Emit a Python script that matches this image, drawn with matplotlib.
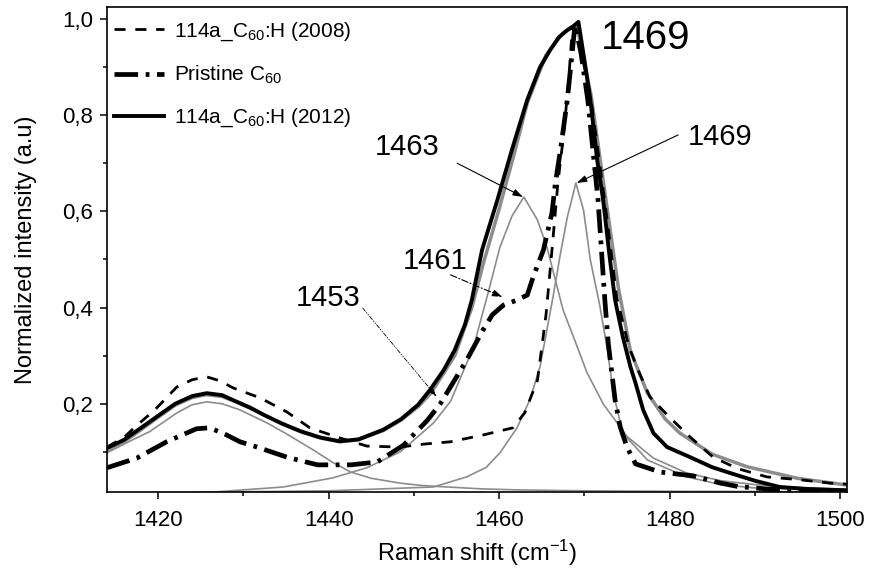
import matplotlib
matplotlib.use("Agg")
import matplotlib.pyplot as plt
from matplotlib.ticker import MultipleLocator

plt.rcParams['font.family'] = ['Liberation Sans', 'DejaVu Sans']
plt.rcParams['mathtext.default'] = 'regular'

# ---------------- data ----------------
x_2012 = [1414, 1416, 1418, 1420, 1422, 1424, 1425.7, 1427.5, 1429, 1430.8, 1432.5, 1434.5,
          1436.7, 1439, 1441.3, 1443.5, 1446.4, 1448.5, 1450.5, 1451.9, 1453.5, 1454.8, 1456,
          1456.8, 1458.0, 1459.8, 1461.5, 1463.3, 1464.8, 1466.0, 1467.0, 1468.0, 1468.7, 1469.3,
          1470.0, 1470.7, 1471.5, 1472.2, 1473.0, 1473.6, 1474.5, 1475.4, 1476.0, 1476.9, 1478.1,
          1479.7, 1482.4, 1485, 1487.1, 1490, 1492.9, 1496, 1500.8]
y_2012 = [0.108, 0.125, 0.150, 0.175, 0.200, 0.216, 0.222, 0.218, 0.206, 0.192, 0.176, 0.159,
          0.143, 0.130, 0.122, 0.126, 0.146, 0.168, 0.198, 0.229, 0.270, 0.312, 0.365,
          0.416, 0.520, 0.624, 0.728, 0.832, 0.900, 0.936, 0.962, 0.977, 0.985, 0.994,
          0.915, 0.832, 0.707, 0.624, 0.500, 0.416, 0.340, 0.277, 0.243, 0.187, 0.139,
          0.110, 0.089, 0.068, 0.056, 0.040, 0.027, 0.023, 0.020]

x_2008 = [1414, 1416, 1417.5, 1419.6, 1422.2, 1424, 1425.7, 1427.2, 1428.8, 1432, 1435.1, 1437.8,
          1441.3, 1444.5, 1448.4, 1451.1, 1454.3, 1458.1, 1461.6, 1463.0, 1464.5, 1465.5, 1466.2,
          1466.9, 1467.5, 1468.1, 1468.6, 1469.2, 1470.8, 1472.4, 1473.8, 1475.2, 1476.3, 1477.7,
          1480.1, 1482.4, 1485.1, 1488, 1491.4, 1495.3, 1498.8, 1500.8]
y_2008 = [0.110, 0.130, 0.155, 0.187, 0.235, 0.250, 0.256, 0.248, 0.233, 0.212, 0.183, 0.150,
          0.129, 0.112, 0.110, 0.116, 0.121, 0.135, 0.150, 0.181, 0.249, 0.385, 0.520,
          0.660, 0.750, 0.860, 0.983, 0.970, 0.830, 0.620, 0.420, 0.320, 0.270, 0.214,
          0.170, 0.131, 0.089, 0.065, 0.048, 0.042, 0.035, 0.033]

x_pristine = [1414, 1417.5, 1421, 1424.5, 1426, 1427.6, 1429.6, 1431.6, 1435.1, 1438.7, 1442.6,
              1445.7, 1448.8, 1451.6, 1453.1, 1456.2, 1458.1, 1459.2, 1460.5, 1462, 1463.3, 1464,
              1465.2, 1466.2, 1466.6, 1467.2, 1468, 1468.6, 1468.9, 1469.6, 1470.4, 1471.6, 1472.4,
              1472.8, 1473.6, 1474.2, 1475.0, 1476.0, 1478.9, 1482.8, 1486, 1488, 1492, 1500.8]
y_pristine = [0.067, 0.087, 0.121, 0.148, 0.150, 0.139, 0.121, 0.110, 0.089, 0.073, 0.073,
              0.079, 0.114, 0.166, 0.200, 0.291, 0.353, 0.385, 0.405, 0.415, 0.426, 0.464,
              0.520, 0.597, 0.659, 0.728, 0.832, 0.936, 0.988, 0.930, 0.832, 0.624, 0.416,
              0.326, 0.208, 0.152, 0.110, 0.075, 0.058, 0.050, 0.035, 0.028, 0.022, 0.018]

# cumulative fit (gray)
x_fit = [1414, 1416, 1418, 1420, 1422, 1424, 1425.7, 1427.5, 1429, 1431, 1433, 1435, 1437, 1439,
         1441.3, 1443.5, 1446.4, 1448.5, 1450.5, 1452, 1454.8, 1456.8, 1458.2, 1460, 1461.7,
         1463.3, 1465.5, 1467.5, 1469.1, 1470.8, 1472.4, 1474, 1475.4, 1477.4, 1479.5, 1481.2,
         1485, 1489.1, 1495, 1500.8]
y_fit = [0.103, 0.121, 0.146, 0.172, 0.197, 0.213, 0.219, 0.215, 0.205, 0.189, 0.172, 0.155,
         0.140, 0.129, 0.121, 0.125, 0.144, 0.166, 0.194, 0.222, 0.300, 0.400, 0.495, 0.605,
         0.715, 0.825, 0.925, 0.971, 0.988, 0.840, 0.640, 0.440, 0.310, 0.222, 0.168, 0.139,
         0.095, 0.069, 0.045, 0.031]

# fit components (gray)
x_c1426 = [1414, 1417, 1419, 1422.2, 1424, 1425.7, 1427.5, 1429.5, 1432.8, 1435, 1438.2, 1440.5,
           1442.6, 1445, 1448.4, 1451, 1453.9, 1458, 1462, 1470, 1480, 1500.8]
y_c1426 = [0.098, 0.125, 0.142, 0.181, 0.198, 0.204, 0.200, 0.188, 0.160, 0.138, 0.104, 0.078,
           0.058, 0.045, 0.035, 0.030, 0.027, 0.023, 0.021, 0.019, 0.018, 0.017]

x_c1463 = [1420, 1426.9, 1434.7, 1440.5, 1444.5, 1448.4, 1452.3, 1454.3, 1457, 1458.7, 1460.1,
           1461.5, 1462.2, 1462.9, 1464.5, 1465.6, 1466.3, 1467.5, 1468.7, 1470.3, 1472.2, 1475,
           1478.1, 1482, 1486, 1490, 1495, 1500.8]
y_c1463 = [0.012, 0.017, 0.027, 0.046, 0.067, 0.100, 0.160, 0.205, 0.318, 0.430, 0.526,
           0.590, 0.610, 0.630, 0.582, 0.526, 0.478, 0.395, 0.340, 0.265, 0.200, 0.132,
           0.087, 0.056, 0.040, 0.032, 0.026, 0.022]

x_c1469 = [1414, 1440, 1452.3, 1456.2, 1458.5, 1460.1, 1462.1, 1463.6, 1464.8, 1466.3, 1467.2,
           1468, 1469.0, 1469.9, 1470.7, 1471.8, 1472.7, 1473.4, 1474.5, 1477.4, 1482, 1486,
           1490, 1500.8]
y_c1469 = [0.014, 0.019, 0.027, 0.048, 0.068, 0.098, 0.150, 0.208, 0.277, 0.420, 0.513,
           0.588, 0.659, 0.603, 0.499, 0.405, 0.312, 0.222, 0.139, 0.083, 0.048, 0.032,
           0.025, 0.019]

labels = ['114a_C$_{60}$:H (2008)', 'Pristine C$_{60}$', '114a_C$_{60}$:H (2012)']
xticks = [1420, 1440, 1460, 1480, 1500]
yticks = [0.2, 0.4, 0.6, 0.8, 1.0]
ytick_labels = ['0,2', '0,4', '0,6', '0,8', '1,0']

# ---------------- figure ----------------
fig = plt.figure(figsize=(8.71, 5.73), dpi=100)
ax = fig.add_axes([0.1228, 0.1414, 0.8496, 0.8464])

gray = '#8c8c8c'
ax.plot(x_c1426, y_c1426, color=gray, lw=1.2, zorder=2)
ax.plot(x_c1463, y_c1463, color=gray, lw=1.2, zorder=2)
ax.plot(x_c1469, y_c1469, color=gray, lw=1.2, zorder=2)
ax.plot(x_fit, y_fit, color=gray, lw=2.5, zorder=2)

l1, = ax.plot(x_2008, y_2008, color='black', lw=2.0, linestyle=(0, (4, 3.5)), zorder=3)
l2, = ax.plot(x_pristine, y_pristine, color='black', lw=3.4,
              linestyle=(0, (5.0, 1.6, 0.8, 1.6)), zorder=3)
l3, = ax.plot(x_2012, y_2012, color='black', lw=2.8, zorder=4)

ax.set_xlim(1414.0, 1500.8)
ax.set_ylim(0.0166, 1.025)

ax.set_xticks(xticks)
ax.set_xticklabels([str(t) for t in xticks])
ax.set_yticks(yticks)
ax.set_yticklabels(ytick_labels)
ax.xaxis.set_minor_locator(MultipleLocator(10))
ax.yaxis.set_minor_locator(MultipleLocator(0.1))
ax.tick_params(which='major', direction='out', length=5, width=1.1, labelsize=16)
ax.tick_params(axis='x', which='major', pad=8)
ax.tick_params(axis='y', which='major', pad=5)
ax.tick_params(which='minor', direction='out', length=3, width=1.1)
ax.tick_params(top=False, right=False, which='both')
for s in ax.spines.values():
    s.set_linewidth(1.2)

ax.set_xlabel('Raman shift (cm$^{-1}$)', fontsize=17, labelpad=5)
ax.set_ylabel('Normalized intensity (a.u)', fontsize=17, labelpad=18)

leg = ax.legend([l1, l2, l3], labels, loc='upper left', bbox_to_anchor=(-0.009, 1.0),
                frameon=False, fontsize=15, handlelength=2.4, handletextpad=0.5,
                labelspacing=1.0, borderaxespad=0.45, borderpad=0.2)

# annotations
ax.text(1477.2, 0.960, '1469', fontsize=29, ha='center', va='center')
ax.text(1485.9, 0.754, '1469', fontsize=21, ha='center', va='center')
ax.text(1449.2, 0.734, '1463', fontsize=21, ha='center', va='center')
ax.text(1452.5, 0.497, '1461', fontsize=21, ha='center', va='center')
ax.text(1440.0, 0.419, '1453', fontsize=21, ha='center', va='center')

arrow_solid = dict(arrowstyle='-|>,head_length=0.6,head_width=0.2', color='black', lw=0.8,
                   shrinkA=0, shrinkB=0)
ax.annotate('', xy=(1462.8, 0.630), xytext=(1455.1, 0.700), arrowprops=arrow_solid)
ax.annotate('', xy=(1469.1, 0.659), xytext=(1481.0, 0.759), arrowprops=arrow_solid)
ax.annotate('', xy=(1460.4, 0.422), xytext=(1454.3, 0.468),
            arrowprops=dict(arrowstyle='-|>,head_length=0.6,head_width=0.2', color='black',
                            lw=0.8, linestyle=(0, (6, 2, 1, 2)), shrinkA=0, shrinkB=0))
ax.annotate('', xy=(1452.7, 0.214), xytext=(1444.0, 0.399),
            arrowprops=dict(arrowstyle='-|>,head_length=0.5,head_width=0.15', color='black',
                            lw=0.6, linestyle=(0, (5, 2, 1, 2, 1, 2)), shrinkA=0, shrinkB=0))

fig.savefig('out.png', dpi=100)
